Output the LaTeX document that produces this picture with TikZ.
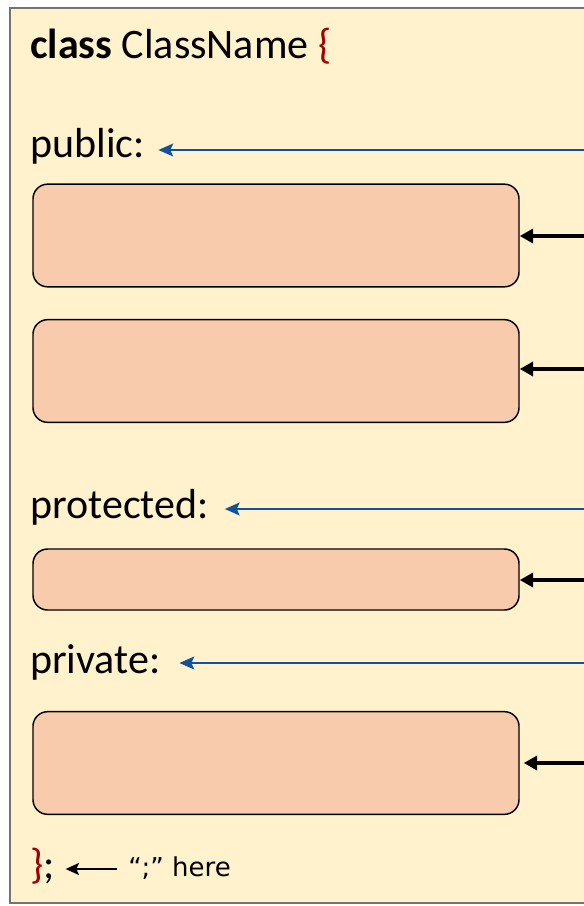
\documentclass[tikz,border=0pt]{standalone}
\usepackage{xcolor}
\usepackage{fontspec}
\setmainfont{Carlito}
\newfontfamily\notefont{DejaVu Sans}
\usepackage{tikz}
\usetikzlibrary{arrows.meta,positioning}

\definecolor{sheet}{RGB}{255,242,204}
\definecolor{slotfill}{RGB}{248,203,173}
\definecolor{bracered}{RGB}{160,0,0}
\definecolor{accblue}{RGB}{16,82,156}

\tikzset{
  code/.style={anchor=base west, inner sep=0pt, font=\fontsize{31.5}{36}\selectfont},
  slot/.style={draw=black, line width=1.1pt, fill=slotfill, rounded corners=11pt,
    minimum width=364.5pt, inner sep=0pt},
  accarrow/.style={draw=accblue, line width=1.9pt, -{Stealth[length=11pt,width=9.5pt,inset=2pt]}},
  slotarrow/.style={draw=black, line width=2.8pt, -{Triangle[length=10pt,width=10.5pt]}},
}

\begin{document}
\begin{tikzpicture}[x=0.75pt, y=-0.75pt]
\useasboundingbox (0,0) rectangle (584,906);

% sheet
\draw[draw=gray!90!black, line width=1.2pt, fill=sheet] (10,8) rectangle (600,903);

% header and access labels
\node[code] (head) at (30,59) {\textbf{class} ClassName {\color{bracered}\{}};
\node[code] (pub) at (30,157) {public:};
\node[code] (prot) at (30,518) {protected:};
\node[code] (priv) at (30,673) {private:};
\node[code] (tail) at (30,878) {{\color{bracered}\}};};
\node[anchor=base west, inner sep=0pt, font=\notefont\fontsize{19.5}{22}\selectfont] (note) at (128,876) {“;” here};

% member slots
\node[slot, minimum height=77pt] (s1) at (276,235.5) {};
\node[slot, minimum height=77pt] (s2) at (276,371) {};
\node[slot, minimum height=45.75pt] (s3) at (276,579.5) {};
\node[slot, minimum height=77pt] (s4) at (276,763) {};

% arrows from the right
\coordinate (pubR) at (590,150);
\coordinate (protR) at (590,509);
\coordinate (privR) at (590,663);
\draw[accarrow] (pubR) -- ([xshift=10pt]pubR -| pub.east);
\draw[accarrow] (protR) -- ([xshift=12pt]protR -| prot.east);
\draw[accarrow] (privR) -- ([xshift=14pt]privR -| priv.east);

\coordinate (r1) at (590,236);
\coordinate (r2) at (590,369);
\coordinate (r3) at (590,580);
\coordinate (r4) at (590,763);
\draw[slotarrow] (r1) -- (r1 -| s1.east);
\draw[slotarrow] (r2) -- (r2 -| s2.east);
\draw[slotarrow] (r3) -- (r3 -| s3.east);
\draw[slotarrow] (r4) -- ([xshift=3pt]r4 -| s4.east);

\draw[line width=1.7pt, -{Stealth[length=10pt,width=9pt,inset=2pt]}] ([xshift=-8pt]note.west |- 0,869) -- ([xshift=8pt]tail.east |- 0,869);
\end{tikzpicture}
\end{document}
